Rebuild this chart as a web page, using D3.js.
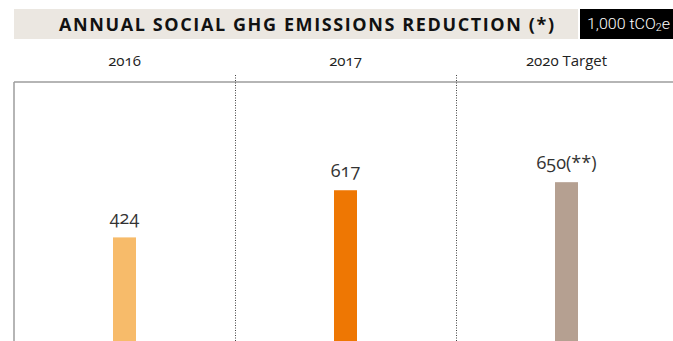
<!DOCTYPE html>
<html><head><meta charset="utf-8">
<script src="https://cdn.jsdelivr.net/npm/d3@7"></script>
<style>
html,body{margin:0;padding:0;background:#fff;}
svg{display:block;}
.num{font-variant-numeric:oldstyle-nums;font-feature-settings:"onum" 1;}
</style></head>
<body><svg id="c" width="673" height="341"></svg>
<script>
const categories = ["2016", "2017", "2020 Target"];
const values = [424, 617, 650];
const valueLabels = ["424", "617", "650(**)"];
const colors = ["#f7bb6a", "#ee7703", "#b5a091"];
const title = "ANNUAL SOCIAL GHG EMISSIONS REDUCTION (*)";
const unitMain = "1,000 tCO", unitSub = "2", unitEnd = "e";

const svg = d3.select("#c");
const W = 673, H = 341;
const plotTop = 82, plotBottom = 341, plotLeft = 14, plotRight = 677;

const x = d3.scaleBand().domain(categories).range([plotLeft, plotRight]).padding(0);
const y = d3.scaleLinear().domain([0, 1060]).range([plotBottom, plotTop]);
const barW = x.bandwidth() * 0.104;

// header band
svg.append("rect").attr("x", 14).attr("y", 9).attr("width", 564).attr("height", 30).attr("fill", "#ebe7e1");
svg.append("text").attr("x", 59).attr("y", 31)
  .attr("font-family", "'Open Sans', sans-serif").attr("font-weight", 700).attr("font-size", 18)
  .attr("fill", "#111").attr("textLength", 495).attr("lengthAdjust", "spacing")
  .text(title);
svg.append("rect").attr("x", 580).attr("y", 9).attr("width", 93).attr("height", 30).attr("fill", "#000");
const ut = svg.append("text").attr("x", 587).attr("y", 29)
  .attr("font-family", "Roboto, sans-serif").attr("font-weight", 300).attr("font-size", 15)
  .attr("fill", "#fff").attr("textLength", 83).attr("lengthAdjust", "spacingAndGlyphs");
ut.append("tspan").text(unitMain);
ut.append("tspan").attr("font-size", 10).attr("dy", 2).text(unitSub);
ut.append("tspan").attr("dy", -2).text(unitEnd);

// category labels
svg.append("g").selectAll("text").data(categories).join("text")
  .attr("class", "num")
  .attr("x", d => x(d) + x.bandwidth() / 2).attr("y", 66)
  .attr("text-anchor", "middle")
  .attr("font-family", "'Open Sans', sans-serif").attr("font-size", 15).attr("fill", "#222")
  .text(d => d);

// frame lines
svg.append("line").attr("x1", plotLeft).attr("x2", W).attr("y1", plotTop).attr("y2", plotTop)
  .attr("stroke", "#9d9d9d").attr("stroke-width", 1.5);
svg.append("line").attr("x1", plotLeft).attr("x2", plotLeft).attr("y1", plotTop).attr("y2", H)
  .attr("stroke", "#9d9d9d").attr("stroke-width", 1.5);

// dotted separators
svg.append("g").selectAll("line").data(categories.slice(1)).join("line")
  .attr("x1", d => Math.round(x(d)) + 0.5).attr("x2", d => Math.round(x(d)) + 0.5)
  .attr("y1", 75).attr("y2", H)
  .attr("stroke", "#444").attr("stroke-width", 1).attr("stroke-dasharray", "1,1.5");

// bars
svg.append("g").selectAll("rect").data(values).join("rect")
  .attr("x", (d, i) => x(categories[i]) + x.bandwidth() / 2 - barW / 2)
  .attr("width", barW)
  .attr("y", d => y(d)).attr("height", d => y(0) - y(d))
  .attr("fill", (d, i) => colors[i]);

// value labels
svg.append("g").selectAll("text").data(values).join("text")
  .attr("class", "num")
  .attr("x", (d, i) => x(categories[i]) + x.bandwidth() / 2)
  .attr("y", d => y(d) - 13)
  .attr("text-anchor", "middle")
  .attr("font-family", "'Open Sans', sans-serif").attr("font-size", 18).attr("fill", "#333")
  .text((d, i) => valueLabels[i]);
</script></body></html>
